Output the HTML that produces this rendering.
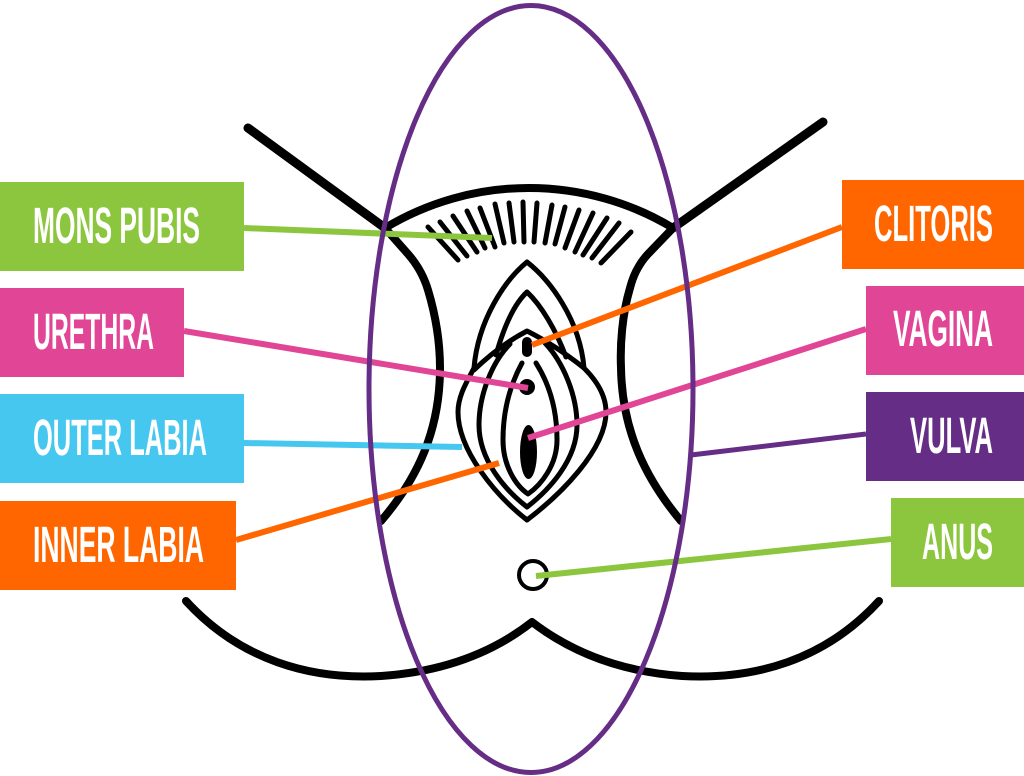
<!DOCTYPE html>
<html>
<head>
<meta charset="utf-8">
<style>
  html, body { margin: 0; padding: 0; background: #ffffff; }
  body { width: 1024px; height: 776px; overflow: hidden; }
  svg { display: block; }
  .lbl { font-family: "Liberation Sans Narrow", "Liberation Sans", sans-serif; font-weight: bold; font-size: 51px; fill: #ffffff; }
</style>
</head>
<body>
<svg width="1024" height="776" viewBox="0 0 1024 776" xmlns="http://www.w3.org/2000/svg">
  <!-- Black line drawing -->
  <g fill="none" stroke="#000" stroke-linecap="round" stroke-linejoin="round">
    <!-- V lines -->
    <path d="M248,128 L385,228" stroke-width="9"/>
    <path d="M823,122 L673,228" stroke-width="9"/>
    <!-- top arc -->
    <path d="M385,228 A279,279 0 0 1 673,228" stroke-width="8"/>
    <!-- side curves -->
    <path d="M385,228 L408,254 Q422,270 428,290 C437,320 440,345 440,368 C440,430 418,478 381,521" stroke-width="8"/>
    <path d="M673,228 L648,254 Q635,268 630,288 C622,315 620,345 621,368 C622,430 645,478 681,521" stroke-width="8"/>
    <!-- bottom curve -->
    <path d="M186,601 C240,660 310,680 381,676 C440,672 490,655 532,622 C575,655 625,672 682,676 C755,680 825,660 879,601" stroke-width="8"/>
    <!-- hair lines -->
    <g stroke-width="5">
      <line x1="428" y1="227" x2="458" y2="260"/>
      <line x1="440" y1="222" x2="467" y2="256"/>
      <line x1="453" y1="216" x2="477" y2="252"/>
      <line x1="467" y1="211" x2="485" y2="248"/>
      <line x1="480" y1="208" x2="495" y2="247"/>
      <line x1="495" y1="204" x2="504" y2="243"/>
      <line x1="509" y1="203" x2="514" y2="242"/>
      <line x1="523" y1="202" x2="524" y2="242"/>
      <line x1="537" y1="203" x2="534" y2="242"/>
      <line x1="552" y1="205" x2="545" y2="243"/>
      <line x1="565" y1="207" x2="555" y2="244"/>
      <line x1="579" y1="210" x2="565" y2="248"/>
      <line x1="593" y1="213" x2="575" y2="252"/>
      <line x1="607" y1="218" x2="583" y2="255"/>
      <line x1="619" y1="223" x2="592" y2="258"/>
      <line x1="631" y1="232" x2="601" y2="263"/>
    </g>
    <!-- outer hood + bulb outline -->
    <path d="M527,262 C505,280 478,320 474,368 C468,380 458,395 458,412 C458,450 495,495 527,520 C560,495 606,450 606,412 C606,395 596,380 584,368 C580,320 550,280 527,262 Z" stroke-width="5"/>
    <!-- tent -->
    <path d="M474,370 Q500,345 527,331 Q555,345 584,368" stroke-width="5"/>
    <!-- inner hood -->
    <path d="M496,355 C503,330 513,305 527,292 C541,305 556,330 566,357" stroke-width="5"/>
    <!-- middle almond -->
    <path d="M510,344 C492,362 479,395 479,425 C479,460 505,490 527,507 C549,490 577,460 577,425 C577,395 563,362 545,343" stroke-width="5"/>
    <!-- inner almond -->
    <path d="M522,363 C510,385 503,410 503,440 C503,465 515,485 528,494 C541,485 557,465 557,440 C557,410 550,385 536,363" stroke-width="5"/>
    <!-- anus -->
    <circle cx="533" cy="575" r="14" stroke-width="4"/>
  </g>
  <!-- filled parts -->
  <rect x="522" y="337" width="10" height="20" rx="5" fill="#000"/>
  <circle cx="527" cy="387" r="8" fill="#000"/>
  <ellipse cx="528.5" cy="452" rx="8.5" ry="27" fill="#000"/>

  <!-- connectors -->
  <g stroke-width="6" fill="none" stroke-linecap="butt">
    <line x1="244" y1="228" x2="492" y2="238" stroke="#8cc63e"/>
    <line x1="184" y1="331" x2="528" y2="388" stroke="#e14595"/>
    <line x1="244" y1="443" x2="462" y2="447" stroke="#45c7ef"/>
    <line x1="236" y1="540" x2="499" y2="463" stroke="#ff6600"/>
    <line x1="532" y1="345" x2="842" y2="227" stroke="#ff6600"/>
    <line x1="528" y1="438" x2="866" y2="329" stroke="#e14595"/>
    <line x1="691" y1="455" x2="866" y2="434" stroke="#652d86" stroke-width="5"/>
    <line x1="536" y1="576" x2="891" y2="539" stroke="#8cc63e"/>
  </g>

  <!-- purple ellipse -->
  <ellipse cx="531" cy="389" rx="162" ry="383.5" fill="none" stroke="#652d86" stroke-width="5"/>

  <!-- label boxes -->
  <rect x="0" y="182" width="244" height="89" fill="#8cc63e"/>
  <rect x="0" y="288" width="184" height="89" fill="#e14595"/>
  <rect x="0" y="394" width="244" height="89" fill="#45c7ef"/>
  <rect x="0" y="501" width="236" height="89" fill="#ff6600"/>
  <rect x="842" y="180" width="182" height="89" fill="#ff6600"/>
  <rect x="866" y="286" width="158" height="89" fill="#e14595"/>
  <rect x="866" y="392" width="158" height="89" fill="#652d86"/>
  <rect x="891" y="498" width="133" height="89" fill="#8cc63e"/>

  <!-- labels -->
  <text class="lbl" x="33" y="243" textLength="167" lengthAdjust="spacingAndGlyphs">MONS PUBIS</text>
  <text class="lbl" x="33" y="349" textLength="121" lengthAdjust="spacingAndGlyphs">URETHRA</text>
  <text class="lbl" x="33" y="455" textLength="174" lengthAdjust="spacingAndGlyphs">OUTER LABIA</text>
  <text class="lbl" x="33" y="562" textLength="171" lengthAdjust="spacingAndGlyphs">INNER LABIA</text>
  <text class="lbl" x="874" y="241" textLength="119" lengthAdjust="spacingAndGlyphs">CLITORIS</text>
  <text class="lbl" x="893" y="346" textLength="100" lengthAdjust="spacingAndGlyphs">VAGINA</text>
  <text class="lbl" x="910" y="453" textLength="83" lengthAdjust="spacingAndGlyphs">VULVA</text>
  <text class="lbl" x="922" y="559" textLength="71" lengthAdjust="spacingAndGlyphs">ANUS</text>
</svg>
</body>
</html>
